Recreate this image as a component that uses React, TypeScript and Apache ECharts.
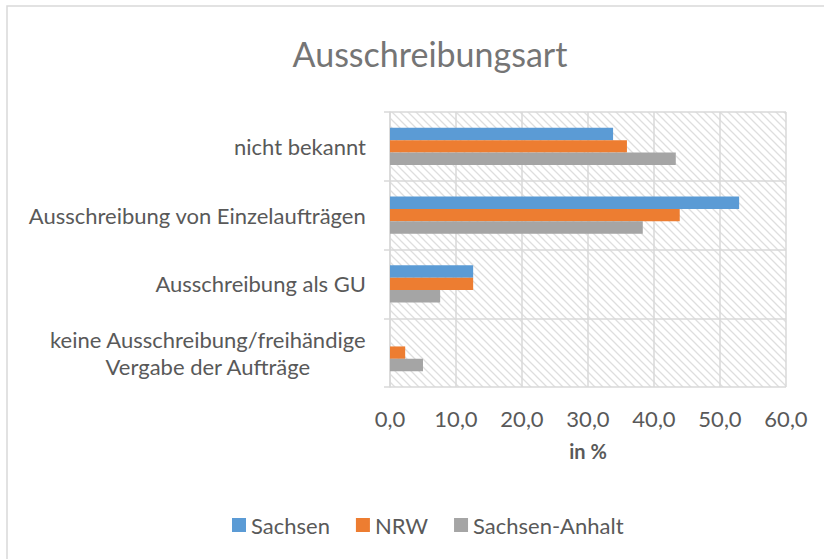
import React, { useEffect, useRef } from "react";
import * as echarts from "echarts";

const categories = [
  "nicht bekannt",
  "Ausschreibung von Einzelaufträgen",
  "Ausschreibung als GU",
  "keine Ausschreibung/freihändige\nVergabe der Aufträge",
];
const seriesNames = ["Sachsen", "NRW", "Sachsen-Anhalt"];
const sachsen = [33.8, 52.9, 12.6, 0];
const nrw = [35.9, 43.9, 12.6, 2.3];
const sachsenAnhalt = [43.3, 38.3, 7.6, 5.0];
const colors = ["#5B9BD5", "#ED7D31", "#A5A5A5"];

const FONT = "Lato, 'Noto Sans', sans-serif";
const TEXT = "#595959";
const GRID = "#d9d9d9";

const hatchSvg =
  "<svg xmlns='http://www.w3.org/2000/svg' width='8' height='8'>" +
  "<path d='M0 0L8 8M-2 6L2 10M6 -2L10 2' stroke='#dedede' stroke-width='1.3'/></svg>";
const hatchUrl = "data:image/svg+xml;charset=utf-8," + encodeURIComponent(hatchSvg);

export default function App() {
  const ref = useRef<HTMLDivElement>(null);
  useEffect(() => {
    if (!ref.current) return;
    const chart = echarts.init(ref.current, undefined, { renderer: "svg" });
    const data = [sachsen, nrw, sachsenAnhalt];
    chart.setOption({
      animation: false,
      backgroundColor: "#ffffff",
      textStyle: { fontFamily: FONT },
      title: {
        text: "Ausschreibungsart",
        left: 430,
        top: 36,
        padding: 0,
        textAlign: "center",
        textStyle: { fontFamily: FONT, fontSize: 34, fontWeight: "normal", color: "#757575" },
      },
      graphic: [
        {
          type: "rect",
          shape: { x: 7, y: 6, width: 1000, height: 800 },
          style: { fill: "none", stroke: GRID, lineWidth: 1.5 },
          silent: true,
          z: -10,
        },
      ],
      legend: {
        data: seriesNames,
        left: 227,
        top: 509,
        itemWidth: 14,
        itemHeight: 14,
        itemGap: 26,
        icon: "rect",
        textStyle: { fontFamily: FONT, fontSize: 22, color: TEXT, padding: [0, 0, 0, 0] },
      },
      grid: {
        left: 390,
        right: 38,
        top: 112,
        bottom: 172,
        show: true,
        borderWidth: 0,
        backgroundColor: {
          image: hatchUrl,
          repeat: "repeat",
          imageWidth: 8,
          imageHeight: 8,
        },
      },
      xAxis: {
        type: "value",
        min: 0,
        max: 60,
        interval: 10,
        name: "in %",
        nameLocation: "middle",
        nameGap: 54,
        nameTextStyle: { fontFamily: FONT, fontSize: 20, fontWeight: "bold", color: TEXT },
        axisLine: { show: false },
        axisTick: { show: false },
        axisLabel: {
          fontFamily: FONT,
          fontSize: 22,
          color: TEXT,
          margin: 20,
          formatter: (v: number) => v.toFixed(1).replace(".", ","),
        },
        splitLine: { show: true, lineStyle: { color: GRID, width: 1.5 } },
      },
      yAxis: {
        type: "category",
        data: categories,
        inverse: true,
        axisLine: { show: true, lineStyle: { color: GRID, width: 1.5 } },
        axisTick: { show: true, length: 6, lineStyle: { color: GRID, width: 1.5 } },
        splitLine: { show: true, lineStyle: { color: GRID, width: 1.5 } },
        axisLabel: {
          margin: 24,
          formatter: (v: string) => v.split("\n").map((l) => `{c|${l}}`).join("\n"),
          rich: {
            c: { align: "center", fontFamily: FONT, fontSize: 22, color: TEXT, lineHeight: 27 },
          },
        },
      },
      series: seriesNames.map((name, i) => ({
        name,
        type: "bar",
        data: data[i],
        barGap: "0%",
        barCategoryGap: "46%",
        itemStyle: { color: colors[i] },
      })),
    });
    return () => chart.dispose();
  }, []);
  return (
    <div
      ref={ref}
      style={{ position: "absolute", left: 0, top: 0, width: 824, height: 559 }}
    />
  );
}
